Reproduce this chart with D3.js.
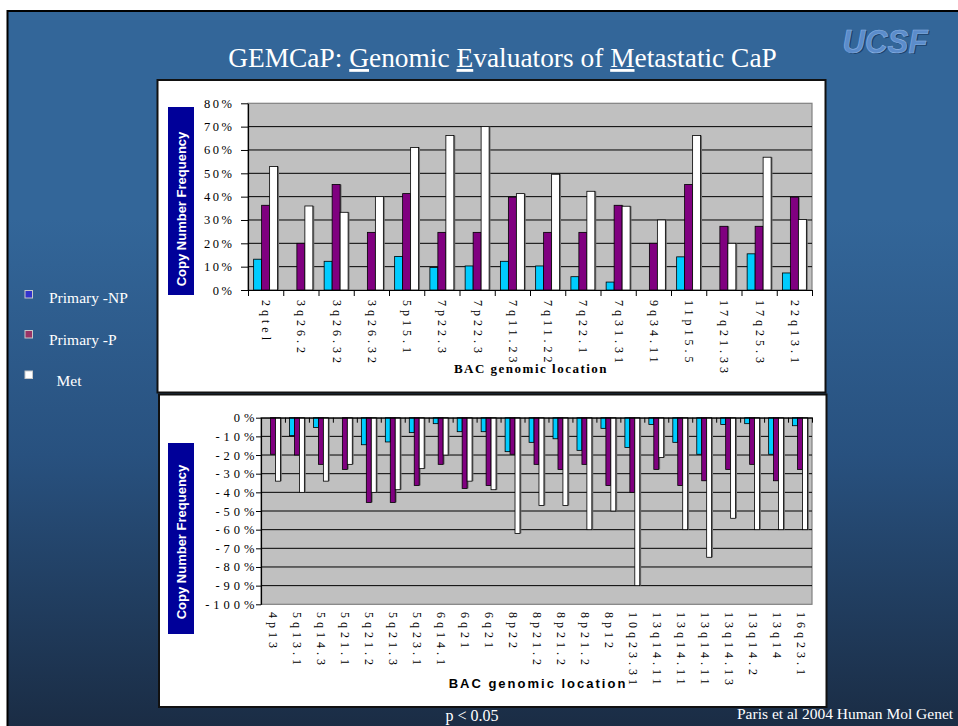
<!DOCTYPE html>
<html>
<head>
<meta charset="utf-8">
<script src="https://cdn.jsdelivr.net/npm/d3@7"></script>
<style>
  html, body { margin: 0; padding: 0; background: #fff; overflow: hidden; }
  svg { display: block; }
</style>
</head>
<body>
<svg id="slide" width="958" height="726"></svg>
<script>
// ---- data -------------------------------------------------------------
const seriesNames = ["Primary -NP", "Primary -P", "Met"];

// Copy number gains (% of samples)
const gainLocations = ["2qtel", "3q26.2", "3q26.32", "3q26.32", "5p15.1", "7p22.3", "7p22.3",
  "7q11.23", "7q11.22", "7q22.1", "7q31.31", "9q34.11", "11p15.5", "17q21.33", "17q25.3", "22q13.1"];
const gainPrimaryNP = [13.2, 0, 12.3, 0, 14.4, 9.6, 10.3, 12.3, 10.3, 5.7, 3.4, 0, 14.2, 0, 15.5, 7.3];
const gainPrimaryP  = [36.3, 20, 45.2, 24.7, 41.3, 24.7, 24.7, 39.8, 24.7, 24.7, 36.3, 20, 45.2, 27.3, 27.3, 39.8];
const gainMet       = [52.9, 36, 33.3, 40, 61.1, 66.2, 70, 41.3, 49.6, 42.3, 35.9, 30, 66.2, 20, 56.9, 30.2];
const gainTicks = [0, 10, 20, 30, 40, 50, 60, 70, 80];

// Copy number losses (% of samples)
const lossLocations = ["4p13", "5q13.1", "5q14.3", "5q21.1", "5q21.2", "5q21.3", "5q23.1", "6q14.1",
  "6q21", "6q21", "8p22", "8p21.2", "8p21.2", "8p21.2", "8p12", "10q23.31", "13q14.11", "13q14.11",
  "13q14.11", "13q14.13", "13q14.2", "13q14", "16q23.1"];
const lossPrimaryNP = [0, -9.6, -5.2, 0, -14.5, -13, -8, -3.2, -7.5, -7.5, -18.2, -13.2, -11.3, -17.5,
  -5.7, -16, -3.6, -13.2, -19.6, -3.6, -3.2, -19.6, -4.3];
const lossPrimaryP  = [-19.6, -20, -25, -27.7, -45.4, -45.4, -36.3, -25, -37.9, -36.3, -19.6, -25, -27.7,
  -25, -36.3, -40, -27.7, -36.3, -33.8, -27.7, -25, -33.8, -27.7];
const lossMet       = [-34, -40, -34, -25, -40, -38.6, -27.3, -20, -34, -38.6, -62, -47, -47, -60,
  -50, -90, -21.3, -60, -74.8, -53.9, -60, -60, -60];
const lossTicks = [0, -10, -20, -30, -40, -50, -60, -70, -80, -90, -100];

// ---- styles -----------------------------------------------------------
const barColors = ["#00ccff", "#800080", "#ffffff"];
const legendColors = ["#3333cc", "#993366", "#ffffff"];
const SERIF = "'Liberation Serif', 'Times New Roman', serif";
const SANS = "'Liberation Sans', Arial, sans-serif";

const svg = d3.select("#slide");

// ---- slide background ---------------------------------------------------
const defs = svg.append("defs");
const bg = defs.append("linearGradient").attr("id", "slideBg")
  .attr("x1", 0).attr("y1", 0).attr("x2", 0).attr("y2", 1);
[[0, "#336699"], [0.28, "#336699"], [0.6, "#28517f"], [1, "#19293f"]].forEach(([o, c]) =>
  bg.append("stop").attr("offset", o).attr("stop-color", c));

svg.append("rect").attr("width", 958).attr("height", 726).attr("fill", "#fff");
svg.append("rect").attr("x", 7.5).attr("y", 11).attr("width", 970).attr("height", 740)
  .attr("fill", "url(#slideBg)").attr("stroke", "#000").attr("stroke-width", 2);

// ---- title (narrow serif: horizontally condensed to 549px) ----------------
const titleParts = [["GEMCaP: ", false], ["G", true], ["enomic ", false], ["E", true],
  ["valuators of ", false], ["M", true], ["etastatic CaP", false]];
const title = svg.append("text")
  .attr("text-anchor", "middle")
  .attr("fill", "#fff")
  .style("font-family", SERIF).style("font-size", "28px");
title.selectAll("tspan").data(titleParts).join("tspan")
  .style("text-decoration", d => d[1] ? "underline" : "none")
  .text(d => d[0]);
const titleW = title.node().getComputedTextLength();
title.attr("transform", `translate(502.5,67) scale(${549 / titleW},1)`);

// ---- UCSF logo ----------------------------------------------------------
const logo = svg.append("g").style("font-family", SANS).style("font-size", "33px")
  .style("font-weight", "bold").style("font-style", "italic");
logo.append("text").attr("x", 844).attr("y", 54).attr("textLength", 85)
  .attr("lengthAdjust", "spacingAndGlyphs").attr("fill", "#1c426c").text("UCSF");
logo.append("text").attr("x", 842.5).attr("y", 52.5).attr("textLength", 85)
  .attr("lengthAdjust", "spacingAndGlyphs").attr("fill", "#5b8ccb")
  .attr("stroke", "#8db3e2").attr("stroke-width", 0.6).text("UCSF");

// ---- legend -------------------------------------------------------------
const legendRows = [
  { y: 290.5, tx: 49, ty: 303 },
  { y: 330.5, tx: 49, ty: 345 },
  { y: 371, tx: 56.5, ty: 386 }
];
const legend = svg.append("g");
legend.selectAll("rect").data(seriesNames).join("rect")
  .attr("x", 25).attr("y", (d, i) => legendRows[i].y)
  .attr("width", 7.5).attr("height", 7.5)
  .attr("fill", (d, i) => legendColors[i])
  .attr("stroke", "#c8c8c8").attr("stroke-width", 1);
legend.selectAll("text").data(seriesNames).join("text")
  .attr("x", (d, i) => legendRows[i].tx).attr("y", (d, i) => legendRows[i].ty)
  .attr("fill", "#fff").style("font-family", SERIF).style("font-size", "15.5px")
  .text(d => d);

// ---- chart panel --------------------------------------------------------
function drawPanel(o) {
  const g = svg.append("g");

  // white panel
  g.append("rect").attr("x", o.box[0]).attr("y", o.box[1])
    .attr("width", o.box[2] - o.box[0]).attr("height", o.box[3] - o.box[1])
    .attr("fill", "#fff").attr("stroke", "#111").attr("stroke-width", 2);

  const n = o.locations.length;
  const x = d3.scaleBand().domain(d3.range(n)).range([o.left, o.right]).padding(0);
  const groupW = x.bandwidth() * o.groupFrac;
  const xs = d3.scaleBand().domain(d3.range(seriesNames.length)).range([0, groupW]).padding(0);
  const groupOffset = (x.bandwidth() - groupW) / 2;
  const y = d3.scaleLinear().domain(o.domain).range([o.bottom, o.top]);
  const y0 = y(0);

  // plot area
  g.append("rect").attr("x", o.left).attr("y", o.top)
    .attr("width", o.right - o.left).attr("height", o.bottom - o.top)
    .attr("fill", "#c0c0c0").attr("stroke", "#808080").attr("stroke-width", 1.2);

  // gridlines
  g.append("g").selectAll("line")
    .data(o.ticks.filter(t => t !== 0 && t !== o.frameTick))
    .join("line")
    .attr("x1", o.left).attr("x2", o.right)
    .attr("y1", d => y(d)).attr("y2", d => y(d))
    .attr("stroke", "#000").attr("stroke-width", 1);

  // bars
  const cells = [];
  o.series.forEach((arr, s) => arr.forEach((v, i) => { if (v !== 0) cells.push({ s, i, v }); }));
  const bars = g.append("g");
  const bx = d => x(d.i) + groupOffset + xs(d.s);
  const by = d => Math.min(y(d.v), y0);
  const bh = d => Math.abs(y(d.v) - y0);
  bars.selectAll("rect.shadow").data(cells).join("rect").attr("class", "shadow")
    .attr("x", d => bx(d) + 1.4).attr("y", by)
    .attr("width", xs.bandwidth()).attr("height", bh)
    .attr("fill", "#6e6e6e");
  bars.selectAll("rect.bar").data(cells).join("rect").attr("class", "bar")
    .attr("x", bx).attr("y", by)
    .attr("width", xs.bandwidth()).attr("height", bh)
    .attr("fill", d => barColors[d.s])
    .attr("stroke", "#000").attr("stroke-width", 0.8);

  // value axis
  const yAxis = g.append("g").attr("transform", `translate(${o.left},0)`)
    .call(d3.axisLeft(y).tickValues(o.ticks).tickSize(o.yTick).tickSizeOuter(0)
      .tickPadding(o.yPad).tickFormat(d => d + "%"));
  yAxis.select(".domain").attr("stroke", "#000").attr("stroke-width", 1.2);
  yAxis.selectAll(".tick line").attr("stroke", "#000");
  yAxis.selectAll("text").attr("fill", "#000")
    .style("font-family", SERIF).style("font-size", o.yFont)
    .style("letter-spacing", o.ySpacing);

  // category axis at zero: tick marks between categories
  const xb = d3.scaleLinear().domain([0, n]).range([o.left, o.right]);
  const xAxis = g.append("g").attr("transform", `translate(0,${y0})`)
    .call(d3.axisBottom(xb).tickValues(d3.range(n + 1)).tickSize(o.xTick)
      .tickSizeOuter(0).tickFormat(""));
  xAxis.select(".domain").attr("stroke", "#000").attr("stroke-width", 1.2);
  xAxis.selectAll(".tick line").attr("stroke", "#000");

  // category labels (rotated, reading downward)
  g.append("g").selectAll("text").data(o.locations).join("text")
    .attr("transform", (d, i) => `translate(${x(i) + x.bandwidth() / 2 + 0.5},${o.labelTop}) rotate(90)`)
    .attr("dominant-baseline", "central")
    .attr("fill", "#000")
    .style("font-family", SERIF).style("font-size", "12px")
    .style("letter-spacing", o.catSpacing)
    .text(d => d);

  // axis title under the categories
  g.append("text").attr("x", o.xTitle[0]).attr("y", o.xTitle[1])
    .attr("text-anchor", "middle").attr("fill", "#000")
    .style("font-family", o.xTitleFont).style("font-weight", "bold")
    .style("font-size", "13px").style("letter-spacing", o.xTitleSpacing)
    .text("BAC genomic location");

  // value axis title on dark blue band
  g.append("rect").attr("x", 168).attr("y", o.yBox[0])
    .attr("width", 26).attr("height", o.yBox[1] - o.yBox[0]).attr("fill", "#000099");
  g.append("text")
    .attr("transform", `translate(181,${o.yTitleMid}) rotate(-90)`)
    .attr("text-anchor", "middle").attr("dominant-baseline", "central")
    .attr("fill", "#fff").style("font-family", SANS).style("font-weight", "bold")
    .style("font-size", "13px")
    .text("Copy Number Frequency");
}

drawPanel({
  box: [157.5, 80, 825.5, 392.5],
  locations: gainLocations,
  series: [gainPrimaryNP, gainPrimaryP, gainMet],
  domain: [0, 80], ticks: gainTicks, frameTick: 80,
  left: 248, right: 812, top: 103.3, bottom: 290,
  groupFrac: 0.68,
  yTick: 7, yPad: 6.5, yFont: "12.5px", ySpacing: "2.5px",
  xTick: 6,
  labelTop: 300, catSpacing: "4px",
  xTitle: [531, 373], xTitleFont: SERIF, xTitleSpacing: "1.5px",
  yBox: [107, 295], yTitleMid: 209
});

drawPanel({
  box: [159, 394.5, 826.5, 707],
  locations: lossLocations,
  series: [lossPrimaryNP, lossPrimaryP, lossMet],
  domain: [-100, 0], ticks: lossTicks, frameTick: -100,
  left: 261, right: 812, top: 417.7, bottom: 604.3,
  groupFrac: 0.62,
  yTick: 5, yPad: -2.5, yFont: "12.5px", ySpacing: "4px",
  xTick: 5,
  labelTop: 612, catSpacing: "4px",
  xTitle: [538, 688], xTitleFont: SANS, xTitleSpacing: "2px",
  yBox: [443, 634], yTitleMid: 542
});

// ---- footer -------------------------------------------------------------
svg.append("text").attr("x", 472).attr("y", 721).attr("text-anchor", "middle")
  .attr("fill", "#fff").style("font-family", SERIF).style("font-size", "16px")
  .text("p < 0.05");
svg.append("text").attr("x", 737).attr("y", 719)
  .attr("fill", "#fff").style("font-family", SERIF).style("font-size", "15.5px")
  .text("Paris et al 2004 Human Mol Genet");
</script>
</body>
</html>
